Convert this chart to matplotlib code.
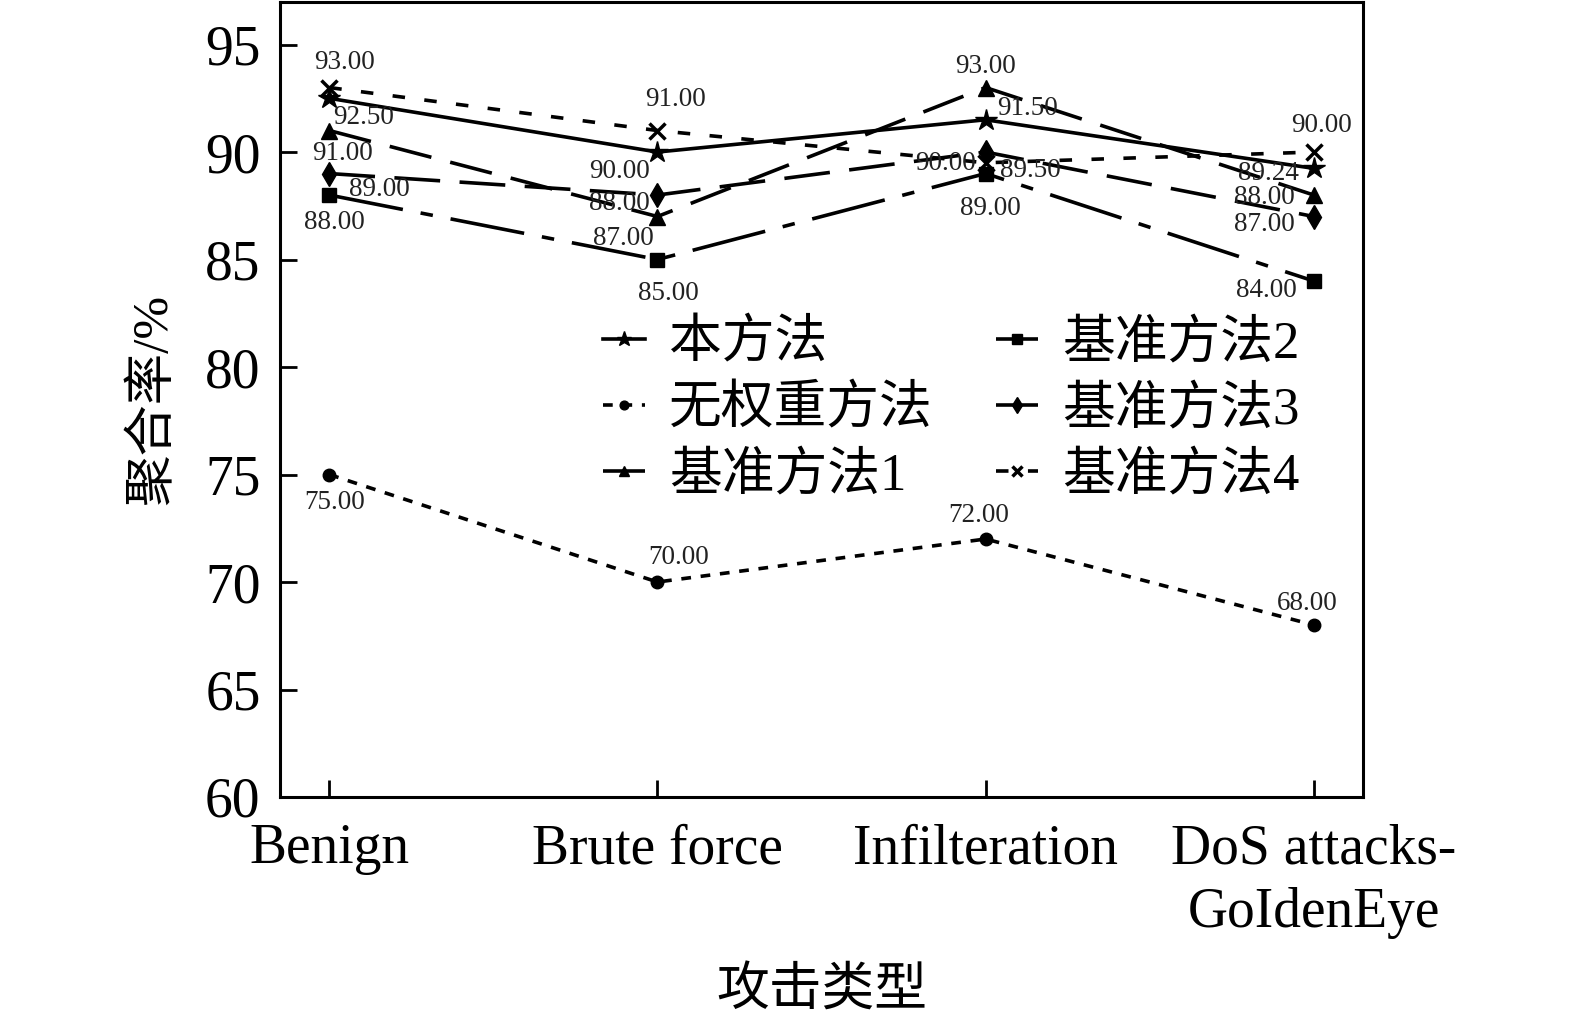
import matplotlib
matplotlib.use("Agg")
import matplotlib.pyplot as plt

plt.rcParams['font.family'] = ['Liberation Serif', 'Noto Sans CJK SC']
plt.rcParams['lines.scale_dashes'] = False

categories = ["Benign", "Brute force", "Infilteration", "DoS attacks-\nGoIdenEye"]
series_names = ["本方法", "无权重方法", "基准方法1", "基准方法2", "基准方法3", "基准方法4"]
ours = [92.5, 90.0, 91.5, 89.24]
no_weight = [75.0, 70.0, 72.0, 68.0]
base1 = [91.0, 87.0, 93.0, 88.0]
base2 = [88.0, 85.0, 89.0, 84.0]
base3 = [89.0, 88.0, 90.0, 87.0]
base4 = [93.0, 91.0, 89.5, 90.0]
y_ticks = [60, 65, 70, 75, 80, 85, 90, 95]

series = [ours, no_weight, base1, base2, base3, base4]
markers = ['*', 'o', '^', 's', 'd', 'x']
msizes = [16, 9, 11, 9.5, 12, 11]
dashes = [None, (7, 7), (31, 14), (54, 13, 9, 13), (33, 14), (9, 14)]

# label offsets in pixels per series per point
offsets = [
    [(34, -19), (-38, -19), (42, 11), (-45, -5)],
    [(5, -28), (21, 25), (-7, 24), (-7, 22)],
    [(13, -23), (-34, -22), (0, 21), (-49, -2)],
    [(5, -27), (11, -34), (5, -35), (-47, -9)],
    [(50, -16), (-38, -8), (-40, -11), (-49, -8)],
    [(15, 25), (18, 31), (45, -8), (8, 27)],
]

fig = plt.figure(figsize=(15.75, 10.26), dpi=100)
ax = fig.add_axes([0.1778, 0.2232, 0.6876, 0.7753])
x = list(range(len(categories)))

for name, vals, m, ms, d, offs in zip(series_names, series, markers, msizes, dashes, offsets):
    kw = dict(color='black', lw=2.6, marker=m, markersize=ms, label=name,
              markeredgewidth=2.5 if m == 'x' else 1.0)
    if d is None:
        ax.plot(x, vals, linestyle='-', **kw)
    else:
        ax.plot(x, vals, linestyle=(0, d), **kw)
    for xi, v, (dx, dy) in zip(x, vals, offs):
        ax.annotate(f"{v:.2f}", (xi, v), xytext=(dx, dy), textcoords='offset pixels',
                    ha='center', va='center', fontsize=19.5, color='#222222')

ax.set_xlim(-0.15, 3.15)
ax.set_ylim(60, 97)
ax.set_yticks(y_ticks)
ax.set_xticks(x)
ax.set_xticklabels(categories, linespacing=1.3)
ax.tick_params(axis='both', direction='in', labelsize=40, width=2, length=12, colors='black')
ax.tick_params(axis='y', pad=14)
ax.tick_params(axis='x', pad=19)
for s in ['left', 'right', 'bottom', 'top']:
    ax.spines[s].set_linewidth(2.2)

ax.set_xlabel("攻击类型", fontsize=38, labelpad=20)
ax.set_ylabel("聚合率/%", fontsize=37, labelpad=20)

leg = ax.legend(ncol=2, loc='upper left', bbox_to_anchor=(0.298, 0.600), frameon=False,
                fontsize=38, handlelength=0.8, handletextpad=0.45, columnspacing=1.2,
                labelspacing=0.32, borderpad=0, borderaxespad=0, markerscale=0.7)

fig.savefig("out.png", dpi=100)
